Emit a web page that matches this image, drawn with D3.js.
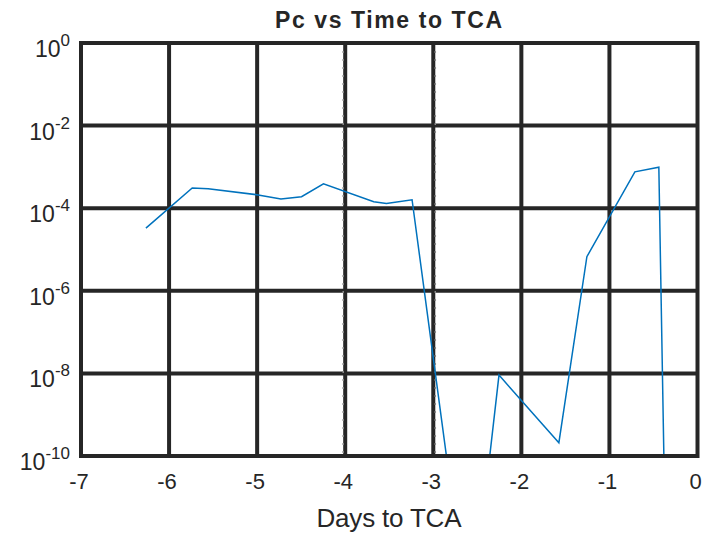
<!DOCTYPE html>
<html>
<head>
<meta charset="utf-8">
<script src="https://cdn.jsdelivr.net/npm/d3@7"></script>
<style>
  body { margin: 0; background: #fff; }
  text { font-family: "Liberation Sans", Arial, sans-serif; fill: #262626; }
</style>
</head>
<body>
<svg id="chart" width="703" height="533"></svg>
<script>
// days to TCA and the Pc
var days = [-6.263, -5.737, -5.556, -4.988, -4.730, -4.496, -4.247, -3.676, -3.532, -3.241,
            -2.75, -2.45, -2.254, -1.574, -1.256, -0.711, -0.439, -0.35];
var pc = [3.3e-5, 3.1e-4, 2.95e-4, 2.1e-4, 1.67e-4, 1.9e-4, 3.9e-4, 1.44e-4, 1.3e-4, 1.6e-4,
          2.5e-12, 2e-12, 9.1e-9, 2.1e-10, 6.7e-6, 7.6e-4, 9.8e-4, 1.3e-14];

var xTicks = [-7, -6, -5, -4, -3, -2, -1, 0];
var yExps = [0, -2, -4, -6, -8, -10];
var dottedDays = [-4, -3];

var dimensions = {
    width: 703,
    height: 533,
    margin: { top: 43, bottom: 77, left: 81, right: 5.5 }
}

var svg = d3.select("#chart");

var xScale = d3.scaleLinear()
    .domain([-7, 0])
    .range([dimensions.margin.left, dimensions.width - dimensions.margin.right]);

var yScale = d3.scaleLog()
    .domain([1e-10, 1])
    .range([dimensions.height - dimensions.margin.bottom, dimensions.margin.top]);

var x0 = xScale(-7), x1 = xScale(0), y0 = yScale(1e-10), y1 = yScale(1);

svg.append("defs").append("clipPath").attr("id", "clip")
    .append("rect")
    .attr("x", x0).attr("y", y1)
    .attr("width", x1 - x0).attr("height", y0 - y1);

// grid
var grid = svg.append("g").attr("stroke", "#262626").attr("stroke-width", 4);
grid.selectAll(".vx")
    .data(xTicks.slice(1, -1))
    .enter().append("line")
    .attr("x1", d => xScale(d)).attr("x2", d => xScale(d))
    .attr("y1", y1).attr("y2", y0);
grid.selectAll(".hy")
    .data(yExps.slice(1, -1))
    .enter().append("line")
    .attr("y1", d => yScale(Math.pow(10, d))).attr("y2", d => yScale(Math.pow(10, d)))
    .attr("x1", x0).attr("x2", x1);

// dotted markers next to -4 and -3
svg.append("g").selectAll("line")
    .data(dottedDays)
    .enter().append("line")
    .attr("x1", d => xScale(d) + (d == -4 ? -2 : 2))
    .attr("x2", d => xScale(d) + (d == -4 ? -2 : 2))
    .attr("y1", y1).attr("y2", y0)
    .attr("stroke", "#888")
    .attr("stroke-width", 1.5)
    .attr("stroke-dasharray", "2,6");

// the Pc line
var line = d3.line()
    .x((d, i) => xScale(days[i]))
    .y(d => yScale(d));

svg.append("path")
    .datum(pc)
    .attr("clip-path", "url(#clip)")
    .attr("fill", "none")
    .attr("stroke", "#0072BD")
    .attr("stroke-width", 1.5)
    .attr("d", line);

// box
svg.append("rect")
    .attr("x", x0).attr("y", y1)
    .attr("width", x1 - x0).attr("height", y0 - y1)
    .attr("fill", "none")
    .attr("stroke", "#262626")
    .attr("stroke-width", 4);

// x tick labels
svg.append("g").selectAll("text")
    .data(xTicks)
    .enter().append("text")
    .attr("x", d => xScale(d) - 2)
    .attr("y", y0 + 33)
    .attr("text-anchor", "middle")
    .attr("font-size", 22)
    .text(d => d);

// y tick labels 10^n
var yl = svg.append("g").selectAll("text")
    .data(yExps)
    .enter().append("text")
    .attr("x", 70)
    .attr("y", d => yScale(Math.pow(10, d)) + 14)
    .attr("text-anchor", "end")
    .attr("font-size", 23);
yl.append("tspan").text("10");
yl.append("tspan").attr("dy", -11).attr("font-size", 17).text(d => d);

// title and axis label
svg.append("text")
    .attr("x", 388.5).attr("y", 28)
    .attr("text-anchor", "middle")
    .attr("font-size", 23)
    .attr("font-weight", "bold")
    .attr("fill", "#000")
    .attr("textLength", 227)
    .text("Pc vs Time to TCA");

svg.append("text")
    .attr("x", 389).attr("y", 527)
    .attr("text-anchor", "middle")
    .attr("font-size", 26)
    .attr("textLength", 145)
    .text("Days to TCA");
</script>
</body>
</html>
